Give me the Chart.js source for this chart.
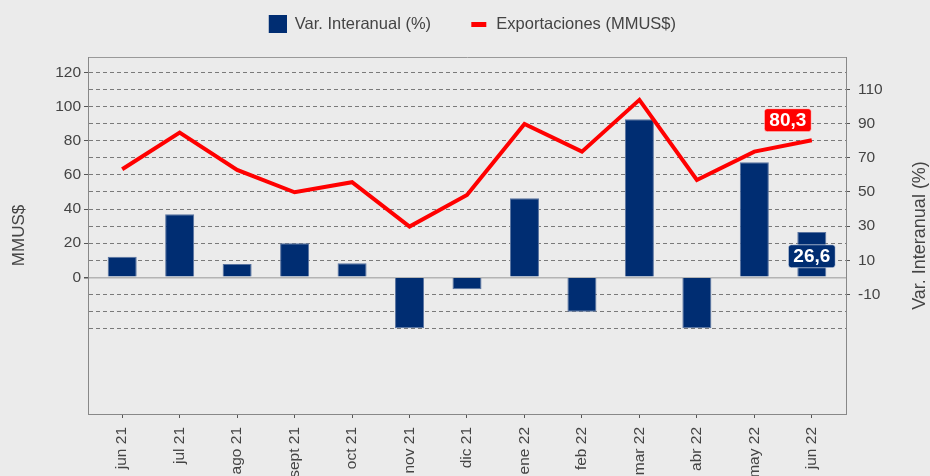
<!DOCTYPE html>
<html>
<head>
<meta charset="utf-8">
<script src="https://cdn.jsdelivr.net/npm/chart.js@4.4.0/dist/chart.umd.min.js"></script>
<style>
  body { margin: 0; background: #ebebeb; }
  canvas { display: block; }
</style>
</head>
<body>
<canvas id="myChart" width="930" height="476"></canvas>
<script>
const months = ["jun 21", "jul 21", "ago 21", "sept 21", "oct 21", "nov 21", "dic 21",
  "ene 22", "feb 22", "mar 22", "abr 22", "may 22", "jun 22"];
const varInteranual = [12.1, 36.9, 7.8, 20.0, 8.3, -29.8, -7.0, 46.3, -20.1, 92.6, -29.8, 67.4, 26.6];
const exportaciones = [63.3, 84.7, 62.9, 49.8, 55.7, 29.7, 48.2, 89.8, 73.6, 103.9, 57.0, 73.6, 80.3];
const leftTicks = [0, 20, 40, 60, 80, 100, 120];
const rightTicks = [-10, 10, 30, 50, 70, 90, 110];
const gridValues = [-30, -20, -10, 0, 10, 20, 30, 40, 50, 60, 70, 80, 90, 100, 110, 120];

const NAVY = "#002d72";
const RED = "#ff0000";
const TEXT = "#444444";
const FONT = '"Liberation Sans", Arial, sans-serif';

Chart.defaults.font.family = FONT;
Chart.defaults.color = TEXT;

// legend icons (wide transparent canvas so the coloured part sits at the right of the box)
function makeIcon(w, h, color, x0, x1) {
  const c = document.createElement("canvas");
  c.width = w;
  c.height = h;
  const g = c.getContext("2d");
  g.fillStyle = color;
  g.fillRect(x0, 0, x1 - x0, h);
  return c;
}
const legendIcons = [makeIcon(45, 18, NAVY, 27, 45), makeIcon(45, 5, RED, 28, 43)];

function fmt(v) {
  return v.toFixed(1).replace(".", ",");
}

function drawTag(ctx, text, cx, cy, fill) {
  ctx.save();
  ctx.font = "bold 19px " + FONT;
  const w = ctx.measureText(text).width + 10;
  const h = 23;
  ctx.beginPath();
  ctx.roundRect(cx - w / 2, cy - h / 2, w, h, 3);
  ctx.fillStyle = fill;
  ctx.fill();
  ctx.strokeStyle = "rgba(255,255,255,0.6)";
  ctx.lineWidth = 1;
  ctx.stroke();
  ctx.fillStyle = "#ffffff";
  ctx.textAlign = "center";
  ctx.textBaseline = "middle";
  ctx.fillText(text, cx, cy + 1);
  ctx.restore();
}

const extras = {
  id: "extras",
  afterDraw(chart) {
    const ctx = chart.ctx;
    const a = chart.chartArea;
    // right axis title, reading bottom to top
    ctx.save();
    ctx.fillStyle = TEXT;
    ctx.font = "18px " + FONT;
    ctx.translate(920, (a.top + a.bottom) / 2);
    ctx.rotate(-Math.PI / 2);
    ctx.textAlign = "center";
    ctx.textBaseline = "middle";
    ctx.fillText("Var. Interanual (%)", 0, 0);
    ctx.restore();

    // last value labels
    const last = months.length - 1;
    const bar = chart.getDatasetMeta(0).data[last];
    drawTag(ctx, fmt(varInteranual[last]), bar.x, (bar.y + bar.base) / 2 + 2, NAVY);
    const pt = chart.getDatasetMeta(1).data[last];
    drawTag(ctx, fmt(exportaciones[last]), pt.x - 24, pt.y - 20, RED);
  },
};

const ctx = document.getElementById("myChart");
const myChart = new Chart(ctx, {
  type: "bar",
  data: {
    datasets: [
      {
        type: "bar",
        label: "Var. Interanual (%)",
        data: varInteranual.map((v, i) => ({ x: i, y: v })),
        backgroundColor: NAVY,
        borderColor: "#5a74a0",
        borderWidth: 1,
        categoryPercentage: 1,
        barPercentage: 0.505,
        xAxisID: "x",
        yAxisID: "y",
        order: 1,
      },
      {
        type: "line",
        label: "Exportaciones (MMUS$)",
        data: exportaciones.map((v, i) => ({ x: i, y: v })),
        borderColor: RED,
        backgroundColor: RED,
        borderWidth: 4,
        borderJoinStyle: "miter",
        pointRadius: 0,
        tension: 0,
        xAxisID: "x",
        yAxisID: "y1",
        order: 0,
      },
    ],
  },
  options: {
    responsive: false,
    animation: false,
    events: [],
    devicePixelRatio: 1,
    layout: { padding: { top: 3.5, left: 0, right: 12, bottom: 0 } },
    plugins: {
      tooltip: { enabled: false },
      legend: {
        position: "top",
        labels: {
          usePointStyle: true,
          pointStyleWidth: 44.5,
          padding: 12.5,
          color: TEXT,
          font: { size: 16.5 },
          generateLabels: (chart) =>
            chart.data.datasets.map((ds, i) => ({
              text: ds.label,
              pointStyle: legendIcons[i],
              fillStyle: "transparent",
              strokeStyle: "transparent",
              lineWidth: 0,
              hidden: false,
              datasetIndex: i,
              fontColor: TEXT,
            })),
        },
      },
    },
    scales: {
      x: {
        type: "linear",
        position: "bottom",
        min: -0.595,
        max: 12.595,
        offset: false,
        afterBuildTicks: (s) => {
          s.ticks = months.map((m, i) => ({ value: i }));
        },
        afterFit: (s) => {
          s.height = 62;
        },
        ticks: {
          autoSkip: false,
          minRotation: 90,
          maxRotation: 90,
          padding: 9,
          color: TEXT,
          font: { size: 15.5 },
          callback: (v) => months[v],
        },
        grid: { drawOnChartArea: false, offset: false, tickLength: 4, tickColor: "#555" },
        border: { display: true, color: "#888" },
      },
      xTop: {
        type: "linear",
        position: "top",
        min: 0,
        max: 1,
        ticks: { display: false },
        grid: { display: false },
        border: { display: true, color: "#999" },
        afterFit: (s) => {
          s.height = 57 - 3.5 - (s.chart.legend ? s.chart.legend.height : 0);
        },
      },
      y: {
        type: "linear",
        position: "left",
        min: -80,
        max: 129,
        afterBuildTicks: (s) => {
          s.ticks = gridValues.map((v) => ({ value: v }));
        },
        afterFit: (s) => {
          s.width = 88;
        },
        ticks: {
          color: TEXT,
          padding: 3,
          font: { size: 15.5 },
          callback: (v) => (leftTicks.includes(v) ? v : ""),
        },
        grid: {
          color: (c) => (c.tick && c.tick.value === 0 ? "#b4b4b4" : "#7a7a7a"),
          lineWidth: (c) => (c.tick && c.tick.value === 0 ? 1.5 : 1),
          tickLength: 4,
          tickColor: (c) => (c.tick && leftTicks.includes(c.tick.value) ? "#555" : "transparent"),
        },
        border: {
          display: true,
          color: "#888",
          dash: (c) => (c.tick && c.tick.value === 0 ? [] : [4, 3]),
        },
        title: {
          display: true,
          text: "MMUS$",
          color: TEXT,
          font: { size: 17 },
          padding: { top: 9, bottom: 0 },
        },
      },
      y1: {
        type: "linear",
        position: "right",
        min: -80,
        max: 129,
        afterBuildTicks: (s) => {
          s.ticks = rightTicks.map((v) => ({ value: v }));
        },
        afterFit: (s) => {
          s.width = 72;
        },
        ticks: {
          color: TEXT,
          padding: 8,
          font: { size: 15.5 },
        },
        grid: { drawOnChartArea: false, tickLength: 4, tickColor: "#555" },
        border: { display: true, color: "#888" },
      },
    },
  },
  plugins: [extras],
});
</script>
</body>
</html>
